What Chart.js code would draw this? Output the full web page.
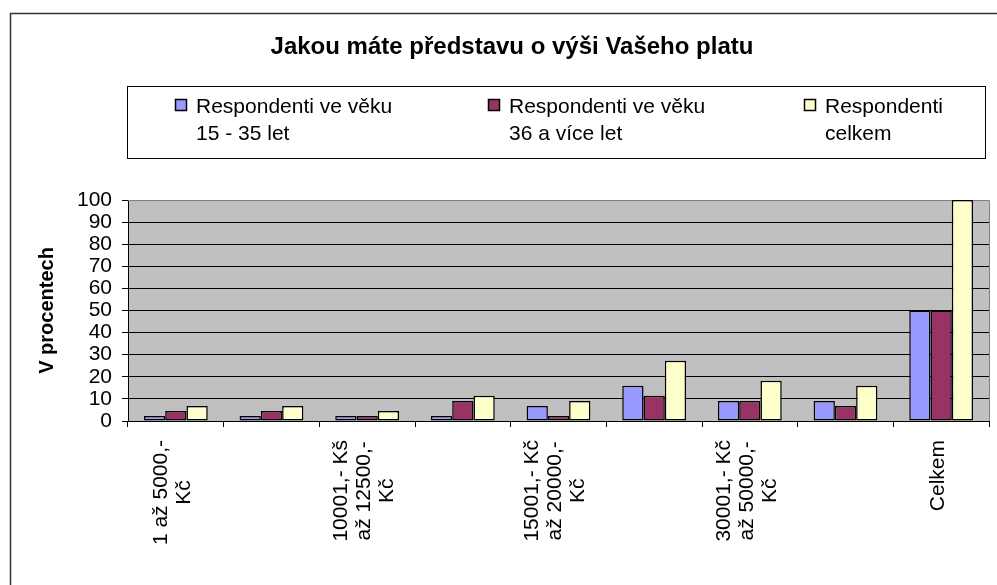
<!DOCTYPE html>
<html>
<head>
<meta charset="utf-8">
<script src="https://cdn.jsdelivr.net/npm/chart.js@4/dist/chart.umd.min.js"></script>
<style>
    body { margin: 0; background: #fff; }
    #wrap { position: relative; width: 997px; height: 585px; }
</style>
</head>
<body>
<div id="wrap"><canvas id="chart-salary"></canvas></div>
<script>
// Kategorie (skryté popisky Excel nevykreslil)
const categories = [
    ["1 až 5000,-", "Kč"],
    "",
    ["10001,- Kš", "až 12500,-", "Kč"],
    "",
    ["15001,- Kč", "až 20000,-", "Kč"],
    "",
    ["30001,- Kč", "až 50000,-", "Kč"],
    "",
    "Celkem",
];

const chartTitle = "Jakou máte představu o výši Vašeho platu";

const seriesNames = [
    ["Respondenti ve věku", "15 - 35 let"],
    ["Respondenti ve věku", "36 a více let"],
    ["Respondenti", "celkem"],
];

const young = [2.3, 2.3, 2.3, 2.3, 6.8, 15.9, 9.1, 9.1, 50];
const older = [4.5, 4.5, 2.3, 9.1, 2.3, 11.4, 9.1, 6.8, 50];
const total = [6.8, 6.8, 4.5, 11.4, 9.1, 27.3, 18.2, 15.9, 100];

const yTicks = [0, 10, 20, 30, 40, 50, 60, 70, 80, 90, 100];

const seriesColors = ["#9999FF", "#993366", "#FFFFCC"];
const FONT = "'Liberation Sans', Arial, sans-serif";

Chart.defaults.font.family = FONT;
Chart.defaults.color = "#000";

// pozadí, rámeček grafu a šedá plocha
const framePlugin = {
    id: "frame",
    beforeDraw(chart) {
        const ctx = chart.ctx;
        const a = chart.chartArea;
        ctx.save();
        ctx.fillStyle = "#fff";
        ctx.fillRect(0, 0, chart.width, chart.height);
        ctx.strokeStyle = "#333";
        ctx.lineWidth = 1.5;
        ctx.strokeRect(10.5, 13.5, 1010, 620);
        ctx.fillStyle = "#C0C0C0";
        ctx.fillRect(a.left, a.top, a.right - a.left, a.bottom - a.top);
        ctx.restore();
    },
    beforeDatasetsDraw(chart) {
        const ctx = chart.ctx;
        const a = chart.chartArea;
        ctx.save();
        ctx.strokeStyle = "#808080";
        ctx.lineWidth = 1;
        ctx.beginPath();
        ctx.moveTo(a.left, a.top + 0.5);
        ctx.lineTo(a.right + 0.5, a.top + 0.5);
        ctx.lineTo(a.right + 0.5, a.bottom);
        ctx.stroke();
        ctx.restore();
    },
};

// nadpis a legenda v rámečku se zalomeným textem
const legendPlugin = {
    id: "boxLegend",
    afterDraw(chart) {
        const ctx = chart.ctx;
        const textX = [196, 509, 825];
        ctx.save();
        ctx.fillStyle = "#000";
        ctx.font = "bold 24px " + FONT;
        ctx.textAlign = "center";
        ctx.textBaseline = "alphabetic";
        ctx.fillText(chartTitle, 512, 54);

        ctx.textAlign = "left";
        ctx.strokeStyle = "#000";
        ctx.lineWidth = 1;
        ctx.strokeRect(127.5, 86.5, 858, 72);
        ctx.font = "21px " + FONT;
        chart.data.datasets.forEach((ds, i) => {
            ctx.fillStyle = ds.backgroundColor;
            ctx.fillRect(textX[i] - 21, 99, 12, 12);
            ctx.strokeStyle = "#000";
            ctx.lineWidth = 1.5;
            ctx.strokeRect(textX[i] - 20.5, 99.5, 11, 11);
            ctx.fillStyle = "#000";
            seriesNames[i].forEach((line, j) => {
                ctx.fillText(line, textX[i], 113 + j * 27);
            });
        });
        ctx.restore();
    },
};

// svislé popisky osy x, řádky centrované
const xLabelPlugin = {
    id: "xLabels",
    afterDraw(chart) {
        const scale = chart.scales.x;
        const ctx = chart.ctx;
        const lh = 23;
        ctx.save();
        ctx.font = "21px " + FONT;
        ctx.fillStyle = "#000";
        ctx.textAlign = "center";
        ctx.textBaseline = "middle";
        categories.forEach((label, i) => {
            if (!label) return;
            const lines = [].concat(label);
            const maxW = Math.max(...lines.map((l) => ctx.measureText(l).width));
            const x0 = scale.getPixelForValue(i) - 3;
            const yc = scale.top + 19 + maxW / 2;
            lines.forEach((line, j) => {
                ctx.save();
                ctx.translate(x0 + (j - (lines.length - 1) / 2) * lh, yc);
                ctx.rotate(-Math.PI / 2);
                ctx.fillText(line, 0, 0);
                ctx.restore();
            });
        });
        ctx.restore();
    },
};

const barStyle = {
    borderColor: "#000",
    borderWidth: 1.5,
    borderSkipped: false,
    barPercentage: 1,
    categoryPercentage: 0.667,
};

var ctx1 = document.getElementById("chart-salary").getContext("2d");

new Chart(ctx1, {
    type: "bar",
    data: {
        labels: categories.map((c) => [].concat(c).join(" ")),
        datasets: [
            { label: seriesNames[0].join(" "), data: young, backgroundColor: seriesColors[0], ...barStyle },
            { label: seriesNames[1].join(" "), data: older, backgroundColor: seriesColors[1], ...barStyle },
            { label: seriesNames[2].join(" "), data: total, backgroundColor: seriesColors[2], ...barStyle },
        ],
    },
    plugins: [framePlugin, legendPlugin, xLabelPlugin],
    options: {
        responsive: true,
        maintainAspectRatio: false,
        animation: false,
        layout: {
            padding: { left: 0, right: 8, top: 200, bottom: 0 },
        },
        plugins: {
            legend: { display: false },
            tooltip: { enabled: false },
            title: { display: false },
        },
        scales: {
            x: {
                offset: true,
                grid: {
                    display: true,
                    offset: true,
                    drawOnChartArea: false,
                    drawTicks: true,
                    tickLength: 6,
                    color: "#000",
                },
                border: { display: true, color: "#000", width: 1 },
                ticks: { display: false },
                afterFit(scale) {
                    scale.height = 164;
                },
            },
            y: {
                min: 0,
                max: 100,
                afterBuildTicks(scale) {
                    scale.ticks = yTicks.map((v) => ({ value: v }));
                },
                grid: {
                    color: (c) => (c.tick && c.tick.value === 100 ? "#808080" : "#000"),
                    tickColor: "#000",
                    tickLength: 6,
                    lineWidth: 1,
                },
                border: { display: true, color: "#000", width: 1 },
                ticks: {
                    autoSkip: false,
                    padding: 10,
                    color: "#000",
                    font: { size: 21, family: FONT },
                },
                title: {
                    display: true,
                    text: "V procentech",
                    color: "#000",
                    font: { size: 20, weight: "bold", family: FONT },
                    padding: { top: 35, bottom: 0 },
                },
                afterFit(scale) {
                    scale.width = 128;
                },
            },
        },
    },
});
</script>
</body>
</html>
